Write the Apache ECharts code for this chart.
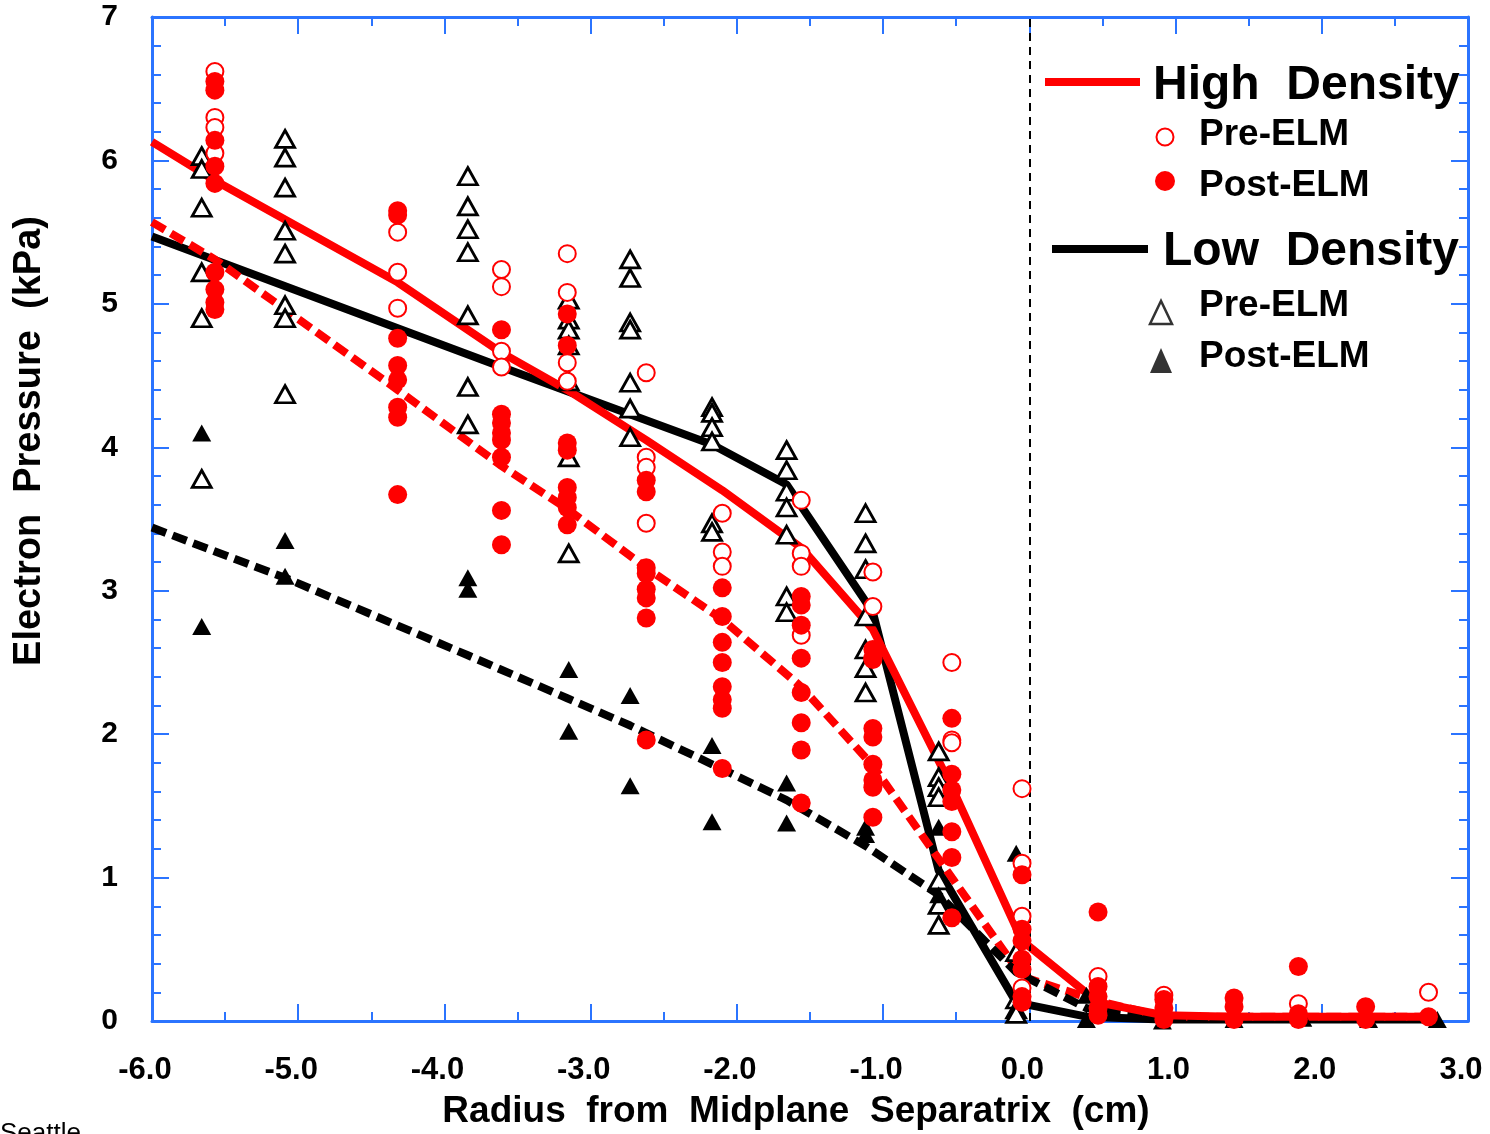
<!DOCTYPE html>
<html lang="en">
<head>
<meta charset="UTF-8">
<title>Electron Pressure</title>
<script src="https://cdn.jsdelivr.net/npm/echarts@6/dist/echarts.min.js"></script>
<style>
  html, body { margin: 0; padding: 0; background: #fff; }
</style>
</head>
<body>
<div id="dv" style="width:1490px;height:1134px;"></div>
<script>
// ---- data ----
// High density, pre-ELM (open circles): column x -> list of values
const hiPreX = [-5.57, -4.32, -3.61, -3.16, -2.62, -2.10, -1.56, -1.07, -0.53, -0.05, 0.47, 0.92, 1.84, 2.73];
const hiPreY = [
  [6.62, 6.30, 6.23, 6.05],
  [5.50, 5.22, 4.97],
  [5.24, 5.12, 4.67, 4.56],
  [5.35, 5.08, 4.59, 4.46],
  [4.52, 3.93, 3.86, 3.47],
  [3.54, 3.27, 3.17],
  [3.63, 3.26, 3.17, 2.69],
  [3.13, 2.89, 2.52],
  [2.50, 1.96, 1.94],
  [1.62, 1.10, 0.73, 0.23],
  [0.31],
  [0.18],
  [0.12],
  [0.20]
];
// High density, post-ELM (filled circles)
const hiPostX = [-5.57, -4.32, -3.61, -3.16, -2.62, -2.10, -1.56, -1.07, -0.53, -0.05, 0.47, 0.92, 1.40, 1.84, 2.30, 2.73];
const hiPostY = [
  [6.55, 6.49, 6.14, 5.96, 5.84, 5.22, 5.10, 5.01, 4.96],
  [5.65, 5.62, 4.76, 4.57, 4.47, 4.28, 4.21, 3.67],
  [4.82, 4.23, 4.17, 4.10, 4.05, 3.93, 3.56, 3.32],
  [4.93, 4.71, 4.03, 3.98, 3.72, 3.65, 3.58, 3.46],
  [3.77, 3.69, 3.16, 3.12, 3.01, 2.95, 2.81, 1.96],
  [3.02, 2.82, 2.64, 2.50, 2.33, 2.24, 2.18, 1.76],
  [2.96, 2.90, 2.76, 2.53, 2.29, 2.08, 1.89, 1.52],
  [2.59, 2.53, 2.04, 1.98, 1.79, 1.68, 1.63, 1.42],
  [2.11, 1.72, 1.61, 1.53, 1.32, 1.14, 0.72],
  [1.02, 0.64, 0.56, 0.43, 0.36, 0.17, 0.13],
  [0.76, 0.24, 0.17, 0.09, 0.04],
  [0.15, 0.09, 0.01],
  [0.16, 0.10, 0.01],
  [0.38, 0.05, 0.01],
  [0.10, 0.01],
  [0.03]
];
// Low density, pre-ELM (open triangles)
const loPreX = [-5.66, -5.09, -3.84, -3.15, -2.73, -2.17, -1.66, -1.12, -0.62, -0.09];
const loPreY = [
  [6.03, 5.94, 5.67, 5.22, 4.90, 3.78],
  [6.15, 6.02, 5.81, 5.51, 5.35, 4.99, 4.90, 4.37],
  [5.89, 5.68, 5.52, 5.36, 4.92, 4.42, 4.16],
  [5.03, 4.89, 4.82, 4.71, 4.46, 3.93, 3.26],
  [5.31, 5.18, 4.87, 4.82, 4.45, 4.27, 4.07],
  [4.28, 4.24, 4.14, 4.04, 3.47, 3.41],
  [3.98, 3.84, 3.69, 3.58, 3.39, 2.96, 2.85],
  [3.54, 3.33, 3.15, 2.82, 2.59, 2.46, 2.29],
  [1.88, 1.70, 1.63, 1.56, 0.98, 0.81, 0.67],
  [0.48, 0.15, 0.08, 0.05]
];
// Low density, post-ELM (filled triangles)
const loPostX = [-5.66, -5.09, -3.84, -3.15, -2.73, -2.17, -1.66, -1.12, -0.62, -0.09, 0.39, 0.91, 1.40, 1.87, 2.32, 2.79];
const loPostY = [
  [4.10, 2.75],
  [3.35, 3.10],
  [3.09, 3.01],
  [2.45, 2.02],
  [2.27, 1.64],
  [1.92, 1.39],
  [1.66, 1.38],
  [1.35, 1.30],
  [1.35, 0.88],
  [1.17],
  [0.18, 0.01],
  [0.00],
  [0.05, 0.01],
  [0.02],
  [0.01],
  [0.01]
];

// fit curves
const hiFitX = [-6.0, -5.57, -4.32, -3.61, -3.16, -2.62, -2.10, -1.56, -1.07, -0.53, -0.05, 0.47, 0.92, 1.40, 1.84, 2.32, 2.79];
const hiFitY = [6.13, 5.86, 5.15, 4.66, 4.40, 4.05, 3.70, 3.30, 2.73, 1.63, 0.56, 0.13, 0.04, 0.03, 0.03, 0.03, 0.03];
const hiPostFitX = [-6.0, -5.57, -4.32, -3.61, -3.16, -2.62, -2.10, -1.56, -1.07, -0.53, -0.05, 0.47, 0.92, 2.79];
const hiPostFitY = [5.57, 5.31, 4.40, 3.87, 3.57, 3.16, 2.80, 2.33, 1.78, 1.00, 0.31, 0.14, 0.03, 0.03];
const loFitX = [-6.0, -3.61, -2.17, -1.66, -1.07, -0.62, -0.09, 0.39, 0.91, 2.79];
const loFitY = [5.47, 4.56, 4.02, 3.74, 2.85, 1.05, 0.13, 0.03, 0.01, 0.01];
const loPostFitX = [-6.0, -5.09, -3.84, -3.16, -2.73, -2.17, -1.66, -1.12, -0.62, -0.09, 0.39, 0.91, 2.79];
const loPostFitY = [3.44, 3.09, 2.55, 2.25, 2.06, 1.79, 1.54, 1.22, 0.88, 0.34, 0.09, 0.02, 0.02];

const xTicks = ['-6.0', '-5.0', '-4.0', '-3.0', '-2.0', '-1.0', '0.0', '1.0', '2.0', '3.0'];

// ---- helpers ----
function cols(xs, vals) {
  let out = [];
  xs.forEach((x, i) => vals[i].forEach(v => out.push([x, v])));
  return out;
}
function pairs(xs, ys) {
  return xs.map((x, i) => [x, ys[i]]);
}

var blue = '#2b74ff';
var font = '"Liberation Sans", Arial, sans-serif';

var myChart = echarts.init(document.getElementById('dv'));

function axisX(pos, showLabel) {
  return {
    type: 'value', position: pos, min: -6, max: 3, interval: 1,
    axisLine: { show: true, onZero: false, lineStyle: { color: blue, width: 3 } },
    axisTick: { show: true, inside: true, length: 17, lineStyle: { color: blue, width: 2 } },
    minorTick: { show: true, splitNumber: 2, length: 9, lineStyle: { color: blue, width: 2 } },
    splitLine: { show: false },
    axisLabel: {
      show: showLabel, margin: 34, color: '#000', fontSize: 31, fontWeight: 'bold', fontFamily: font,
      padding: [0, 14, 0, 0],
      formatter: v => xTicks[Math.round(v) + 6]
    }
  };
}
function axisY(pos, showLabel) {
  return {
    type: 'value', position: pos, min: 0, max: 7, interval: 1,
    axisLine: { show: true, onZero: false, lineStyle: { color: blue, width: 3 } },
    axisTick: { show: true, inside: true, length: 17, lineStyle: { color: blue, width: 2 } },
    minorTick: { show: true, splitNumber: 5, length: 9, lineStyle: { color: blue, width: 2 } },
    splitLine: { show: false },
    axisLabel: { show: showLabel, margin: 34, color: '#000', fontSize: 30, fontWeight: 'bold', fontFamily: font,
      padding: [12, 0, 0, 0] }
  };
}

var option = {
  backgroundColor: '#fff',
  animation: false,
  grid: { left: 152, right: 22, top: 17, bottom: 113 },
  xAxis: [axisX('bottom', true), axisX('top', false)],
  yAxis: [axisY('left', true), axisY('right', false)],
  series: [
    {
      name: 'hiFit', type: 'line', data: pairs(hiFitX, hiFitY), symbol: 'none', z: 3,
      lineStyle: { color: '#ff0000', width: 8 },
      markLine: {
        silent: true, symbol: 'none', label: { show: false },
        lineStyle: { color: '#000', type: [8, 6], width: 2 },
        data: [{ xAxis: 0 }]
      }
    },
    {
      name: 'loFit', type: 'line', data: pairs(loFitX, loFitY), symbol: 'none', z: 2,
      lineStyle: { color: '#000', width: 8 }
    },
    {
      name: 'hiPostFit', type: 'line', data: pairs(hiPostFitX, hiPostFitY), symbol: 'none', z: 2,
      lineStyle: { color: '#ff0000', width: 8, type: [15, 7] }
    },
    {
      name: 'loPostFit', type: 'line', data: pairs(loPostFitX, loPostFitY), symbol: 'none', z: 2,
      lineStyle: { color: '#000', width: 8, type: [15, 7] }
    },
    {
      name: 'loPre', type: 'scatter', data: cols(loPreX, loPreY), symbol: 'triangle', symbolSize: [19, 17], z: 4,
      itemStyle: { color: '#fff', borderColor: '#000', borderWidth: 2.8, opacity: 1 }
    },
    {
      name: 'loPost', type: 'scatter', data: cols(loPostX, loPostY), symbol: 'triangle', symbolSize: [19, 17], z: 4,
      itemStyle: { color: '#000', opacity: 1 }
    },
    {
      name: 'hiPre', type: 'scatter', data: cols(hiPreX, hiPreY), symbol: 'circle', symbolSize: 17, z: 5,
      itemStyle: { color: '#fff', borderColor: '#ff0000', borderWidth: 2, opacity: 1 }
    },
    {
      name: 'hiPost', type: 'scatter', data: cols(hiPostX, hiPostY), symbol: 'circle', symbolSize: 19, z: 6,
      itemStyle: { color: '#ff0000', opacity: 1 }
    }
  ],
  graphic: [
    // axis titles
    { type: 'text', x: 796, y: 1112, style: { text: 'Radius  from  Midplane  Separatrix  (cm)', font: 'bold 37px ' + font, fill: '#000', align: 'center', verticalAlign: 'middle' } },
    { type: 'text', x: 30, y: 441, rotation: Math.PI / 2, style: { text: 'Electron  Pressure  (kPa)', font: 'bold 38px ' + font, fill: '#000', align: 'center', verticalAlign: 'middle' } },
    { type: 'text', x: 0, y: 1121, style: { text: 'Seattle', font: '26px ' + font, fill: '#000', align: 'left', verticalAlign: 'top' } },
    // legend
    { type: 'line', shape: { x1: 1045, y1: 82, x2: 1140, y2: 82 }, style: { stroke: '#ff0000', lineWidth: 8 } },
    { type: 'text', x: 1153, y: 86, style: { text: 'High  Density', font: 'bold 48px ' + font, fill: '#000', verticalAlign: 'middle' } },
    { type: 'circle', shape: { cx: 1165, cy: 137, r: 8.5 }, style: { fill: '#fff', stroke: '#ff0000', lineWidth: 2 } },
    { type: 'text', x: 1199, y: 135, style: { text: 'Pre-ELM', font: 'bold 37px ' + font, fill: '#000', verticalAlign: 'middle' } },
    { type: 'circle', shape: { cx: 1165, cy: 181, r: 10 }, style: { fill: '#ff0000' } },
    { type: 'text', x: 1199, y: 186, style: { text: 'Post-ELM', font: 'bold 37px ' + font, fill: '#000', verticalAlign: 'middle' } },
    { type: 'line', shape: { x1: 1052, y1: 249, x2: 1148, y2: 249 }, style: { stroke: '#000', lineWidth: 8 } },
    { type: 'text', x: 1163, y: 252, style: { text: 'Low  Density', font: 'bold 48px ' + font, fill: '#000', verticalAlign: 'middle' } },
    { type: 'polygon', shape: { points: [[1150, 324], [1161, 301], [1172, 324]] }, style: { fill: '#fff', stroke: '#333', lineWidth: 2.5 } },
    { type: 'text', x: 1199, y: 306, style: { text: 'Pre-ELM', font: 'bold 37px ' + font, fill: '#000', verticalAlign: 'middle' } },
    { type: 'polygon', shape: { points: [[1150, 373], [1161, 348], [1172, 373]] }, style: { fill: '#333' } },
    { type: 'text', x: 1199, y: 357, style: { text: 'Post-ELM', font: 'bold 37px ' + font, fill: '#000', verticalAlign: 'middle' } }
  ]
};
myChart.setOption(option);
</script>
</body>
</html>
